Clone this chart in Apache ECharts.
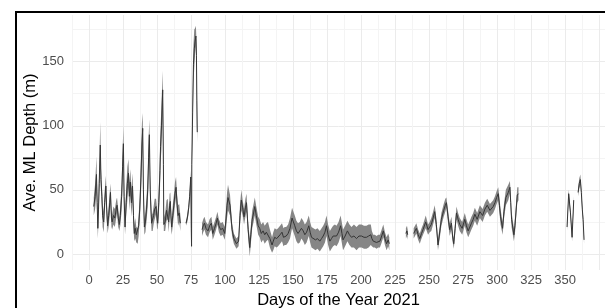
<!DOCTYPE html>
<html>
<head>
<meta charset="utf-8">
<script src="https://cdn.jsdelivr.net/npm/echarts@6/dist/echarts.min.js"></script>
<style>html,body{margin:0;padding:0;background:#fff}#c{width:605px;height:308px}</style>
</head>
<body>
<div id="c"></div>
<script>
// x tick labels and y tick labels
const xTickLabels = [0, 25, 50, 75, 100, 125, 150, 175, 200, 225, 250, 275, 300, 325, 350];
const yTickLabels = [0, 50, 100, 150];

// Each row: [day of year, average ML depth (m), half-width of the shaded band (m)]
const seg1 = [
  [3.5,37,7],[4.5,45,10],[5.5,62,14],[6,40,10],[6.5,20,8],[7,35,9],[7.5,55,11],[8.3,85,18],[8.8,58,9],[9.5,45,9],
  [10,30,9],[10.8,25,8],[11.5,40,9],[12.4,53,8],[13,35,8],[13.7,22,6],[14.5,30,8],[15.3,40,9],[15.8,48,7],[16.5,28,7],
  [17,25,6],[18,30,7],[19,28,7],[20,35,7],[20.6,38,6],[21.5,28,7],[22.3,23,5],[23,30,8],[24,45,11],[24.7,68,13],
  [25.3,86,14],[25.8,45,11],[26.5,21,6],[27.3,40,11],[28.2,55,13],[29,63,11],[29.7,45,11],[30.4,56,10],[31.2,40,11],[32,53,10],
  [32.7,30,9],[33.3,16,6],[34,20,8],[34.8,15,6],[35.8,14,6],[36.5,22,8],[37.3,35,9],[38.2,60,15],[38.9,85,17],[39.5,98,12],
  [40,50,11],[40.7,21,6],[41.5,25,8],[42.3,35,9],[43.2,50,13],[43.8,75,15],[44.4,93,12],[45,50,11],[46,24,6],[46.8,25,7],
  [47.5,30,7],[48.3,35,8],[49.3,37,6],[50,28,8],[50.5,24,5],[51.3,40,11],[52.2,65,15],[52.6,84,13],[53.3,100,18],[54.2,128,15],
  [54.7,70,18],[55,23,5],[56,25,7],[57,34,8],[57.9,35,8],[58.6,25,8],[59.3,38,9],[59.8,41,7],[60.3,28,8],[60.8,21,6],
  [61.6,30,8],[62.4,38,8],[63.2,47,9],[64,52,8],[64.8,38,8],[65.5,30,8],[66.3,32,7],[67.2,24,6]
];
const seg2 = [
  [71.3,24,2],[72.3,28,3],[73.3,36,4],[74,45,4],[74.8,60,5],[75.2,20,2],[75.4,6,2],[75.6,70,6],[76.2,110,12],[76.8,148,15],
  [77.4,160,15],[78,166,10],[78.6,170,8],[79,155,12],[79.3,120,20],[79.6,95,8]
];
const seg3 = [
  [83.1,19,5],[84,22,5],[84.9,24,5],[86,20,5],[87.5,18,5],[88.7,22,5],[90,24,5],[91,16,5],[92.3,20,5],[93.5,24,5],
  [94.4,28,5],[95.5,22,5],[96.8,19,5],[98.3,20,5],[99.8,16,5],[100.8,28,8],[101.5,38,10],[102.2,44,10],[103.7,38,8],[104.5,28,6],
  [105.2,19,5],[106.5,12,4],[108.4,8,4],[110,10,4],[111,30,8],[112,42,8],[113,36,6],[114,29,6],[115,36,7],[115.8,40,7],
  [116.5,28,6],[117,19,6],[118.2,5,7],[119,15,7],[120,27,7],[121,32,7],[121.9,37,7],[123,30,7],[124.4,22,7],[125.5,20,7],
  [126.7,16,7],[128,18,7],[129.2,15,7],[130.4,17,7],[131.6,18,7],[133,12,7],[134.6,7,6],[135.5,10,7],[136.5,13,7],[138,12,7],
  [139,13,7],[140.5,15,7],[141.9,17,7],[143,13,7],[143.9,14,7],[145,14,7],[146.4,16,7],[147.8,20,8],[149.3,28,8],[150.3,25,8],
  [151.3,22,8],[152.5,18,8],[153.7,16,8],[155,17,8],[156.2,20,8],[157.5,18,8],[158.7,15,8],[160,17,8],[161.6,22,8],[162.6,17,8],
  [163.6,13,8],[165,12,8],[166.5,11,8],[168,12,8],[169.7,10,8],[171,12,8],[172.2,14,8],[173.5,17,8],[174.6,22,8],[175.8,15,8],
  [177.1,10,8],[178.3,12,8],[179.5,14,8],[180.8,15,8],[182,14,8],[183.5,17,8],[185,22,8],[186,16,8],[186.8,11,8],[188.3,14,8],
  [190,18,8],[191.5,15,8],[193,13,8],[194.8,14,9],[196.7,12,9],[198.5,14,9],[200.4,14,9],[202.2,13,9],[204,13,9],[205.6,14,9],
  [207.2,15,8],[208,12,6],[209,10,5],[210.2,10,5],[211.4,9,5],[212.7,10,5],[213.9,10,5],[215.2,14,5],[216.4,18,5],[217.6,12,5],
  [218.8,8,5],[220,11,5],[220.8,8,5]
];
const seg4 = [[233,16,4],[233.8,18,4],[234.3,15,4]];
const seg5 = [
  [238.7,16,4],[240.7,20,4],[242,15,4],[243.2,12,4],[244.5,16,4],[245.6,19,4],[247.6,25,5],[249.3,19,4],[250.5,21,4],[251.7,23,5],
  [253,28,5],[254.2,33,5],[255.4,23,5],[256.6,7,4],[258,18,5],[259.1,27,5],[260.8,34,5],[262,38,5],[262.8,40,4],[264,29,5],
  [265.2,19,5],[266.5,24,5],[267.3,14,4],[268.2,8,4],[269.2,20,5],[270.2,32,5],[271.4,27,5],[272.6,23,5],[274.4,20,5],[276.3,27,5],
  [277.5,22,5],[278.8,18,5],[280,21,5],[281.2,24,5],[282.5,27,5],[283.7,31,5],[285.4,27,5],[287.4,33,5],[289.4,30,5],[291.1,35,5],
  [292.8,38,5],[294.8,34,5],[297.2,37,5],[298.5,40,5],[299.7,44,5],[300.9,47,5],[301.8,38,6],[302.6,29,6],[304.1,20,5],[305.1,33,6],
  [306.5,44,6],[308.3,48,6],[309.5,52,5],[310.1,40,6],[310.7,27,6],[312.4,15,5],[313.2,22,6],[313.9,32,6],[314.9,46,6],[315.8,47,5]
];
const seg6 = [[351.5,21,3],[352.7,47,3],[354,32,3],[355.2,13,3],[356.4,42,3]];
const seg7 = [[359.6,48,3],[360.5,55,4],[361.3,58,4],[362,48,3],[362.7,35,3],[363.3,27,3],[364,11,3]];

const segments = [seg1, seg2, seg3, seg4, seg5, seg6, seg7];

// mean line data with gaps between segments
const meanData = [];
segments.forEach((seg, si) => {
  if (si > 0) {
    const prev = segments[si - 1];
    meanData.push([prev[prev.length - 1][0] + 0.5, '-']);
  }
  seg.forEach(([d, m]) => meanData.push([d, m]));
});
// one ribbon polygon per segment
const ribbonData = segments.map((seg, si) => [si, seg[0][0], seg[seg.length - 1][0]]);

const FONT = '"Liberation Sans", Arial, Helvetica, sans-serif';
const chart = echarts.init(document.getElementById('c'), null, {renderer: 'canvas'});
chart.setOption({
  animation: false,
  backgroundColor: '#ffffff',
  grid: {left: 72, right: 0, top: 15, bottom: 38, containLabel: false, outerBoundsMode: 'none'},
  xAxis: {
    type: 'value', min: -12.5, max: 379.4, interval: 12.5,
    name: 'Days of the Year 2021', nameLocation: 'middle', nameGap: 20,
    nameTextStyle: {fontFamily: FONT, fontSize: 16.5, color: '#000'},
    axisLine: {show: false}, axisTick: {show: false},
    axisLabel: {margin: 4, color: '#4d4d4d', fontSize: 13, fontFamily: FONT,
      formatter: v => xTickLabels.includes(Math.round(v * 100) / 100) ? String(Math.round(v)) : ''},
    splitLine: {show: true, showMaxLine: false, lineStyle: {color: ['#f4f4f4', '#ebebeb'], width: 1}}
  },
  yAxis: {
    type: 'value', min: -12.5, max: 186.4, interval: 12.5,
    name: 'Ave. ML Depth (m)', nameLocation: 'middle', nameGap: 33, nameMoveOverlap: false,
    nameTextStyle: {fontFamily: FONT, fontSize: 16.5, color: '#000'},
    axisLine: {show: false}, axisTick: {show: false},
    axisLabel: {margin: 8, color: '#4d4d4d', fontSize: 13, fontFamily: FONT,
      formatter: v => yTickLabels.includes(Math.round(v * 100) / 100) ? String(Math.round(v)) : ''},
    splitLine: {show: true, showMaxLine: false, lineStyle: {color: ['rgba(0,0,0,0)', '#ebebeb', 'rgba(0,0,0,0)', '#f4f4f4'], width: 1}}
  },
  graphic: [{
    type: 'rect', shape: {x: 16, y: 12, width: 700, height: 400},
    style: {fill: 'none', stroke: '#000', lineWidth: 2}, silent: true, z: 100
  }],
  series: [
    {
      type: 'custom', data: ribbonData, silent: true, z: 1,
      encode: {x: [1, 2], y: -1},
      renderItem: (params, api) => {
        const seg = segments[api.value(0)];
        const pts = [];
        seg.forEach(([d, m, h]) => pts.push(api.coord([d, m + h])));
        for (let i = seg.length - 1; i >= 0; i--) {
          const [d, m, h] = seg[i];
          pts.push(api.coord([d, m - h]));
        }
        return {type: 'polygon', shape: {points: pts}, style: {fill: '#868686', stroke: 'none'}};
      }
    },
    {type: 'line', data: meanData, symbol: 'none', connectNulls: false,
      lineStyle: {color: '#353535', width: 1}, silent: true, z: 2}
  ]
});
</script>
</body>
</html>
